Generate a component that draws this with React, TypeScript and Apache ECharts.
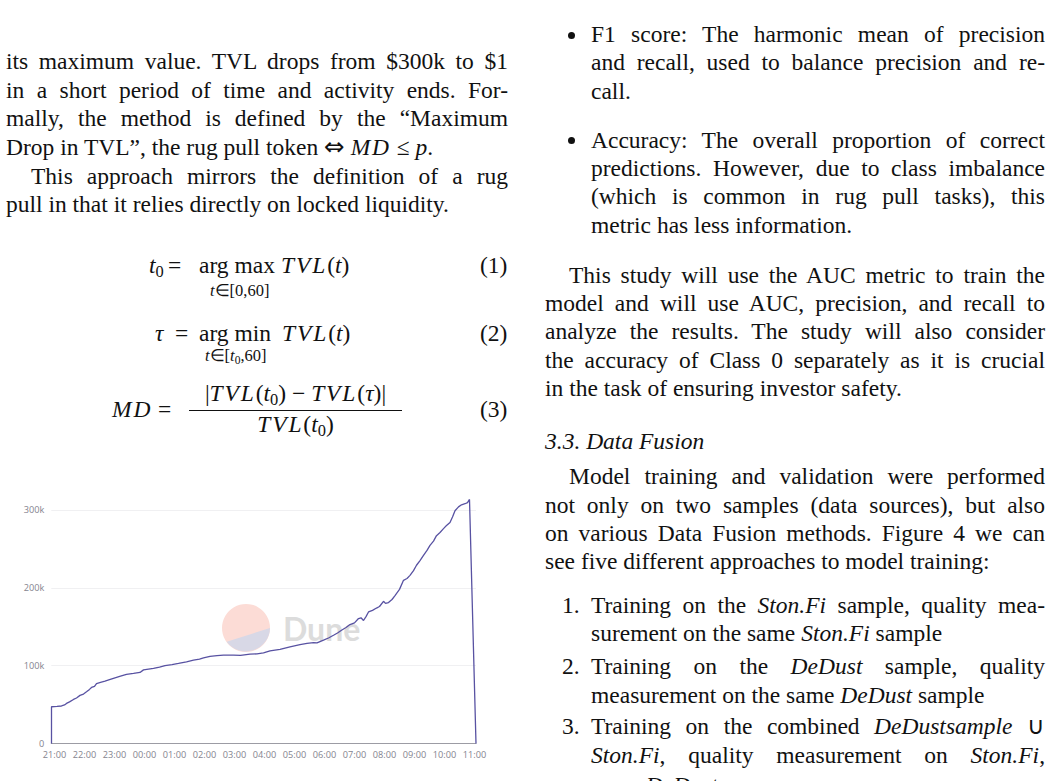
import React, { useEffect, useRef } from 'react';
import * as echarts from 'echarts';

// minutes after 21:00, and TVL in thousands of dollars
const minutes = [
  -6, -6, 5, 14, 20, 24, 30, 38, 44, 51, 58, 64, 70, 74, 80, 84, 92, 101, 110, 121,
  132, 144, 158, 171, 178, 188, 198, 210, 221, 235, 248, 264, 278, 290, 298, 311, 325,
  338, 358, 372, 391, 405, 418, 431, 451, 471, 491, 505, 518, 525, 538, 548, 558, 566,
  574, 583, 591, 600, 608, 613, 618, 623, 628, 636, 644, 650, 658, 662, 668, 675, 681,
  690, 698, 705, 711, 718, 724, 731, 738, 745, 751, 758, 764, 771, 778, 784, 791, 796,
  801, 808, 814, 821, 826, 830, 843,
];
const tvlK = [
  0, 47.2, 47.6, 48.2, 49.5, 51.5, 53.5, 56.6, 58.5, 61.8, 63.5, 66.4, 69.5, 72, 73.5, 77,
  78.5, 80, 82, 84.4, 86.5, 88.7, 90, 91.3, 94.6, 95.5, 96.4, 98, 100, 101.2, 102.8, 104.9,
  107, 108.5, 110, 112, 113, 113.5, 113.5, 113.2, 114.7, 115.2, 116.4, 119, 121, 124, 127,
  128.6, 129.7, 129.2, 132.7, 135.5, 139, 142, 145.5, 149, 152.8, 155, 160.5, 161.5, 158,
  163, 169, 171, 174, 176, 182.7, 180, 181, 185, 190, 198, 209.6, 212, 216, 222, 229, 235,
  241.7, 248, 254.5, 260, 267, 271, 276, 280, 284, 291, 299, 304, 306.7, 308, 309.5, 313.5, 0,
];

const xTickLabels = [
  '21:00', '22:00', '23:00', '00:00', '01:00', '02:00', '03:00', '04:00',
  '05:00', '06:00', '07:00', '08:00', '09:00', '10:00', '11:00',
];
const yTickValues = [0, 100000, 200000, 300000];
const yTickLabels = ['0', '100k', '200k', '300k'];

echarts.graphic.registerShape(
  'duneSeg',
  echarts.graphic.extendPath('M48 24 A24 24 0 0 1 4.7 37.7 Z', {})
);

const TvlChart: React.FC = () => {
  const chartRef = useRef<HTMLDivElement>(null);

  useEffect(() => {
    if (!chartRef.current) return;
    const chart = echarts.init(chartRef.current, null, { renderer: 'svg' });

    const labelColor = '#85858f';
    const lineColor = '#5852a2';

    chart.setOption({
      animation: false,
      backgroundColor: '#fff',
      grid: { left: 51.3, right: 24, top: 14.4, bottom: 37.5 },
      graphic: [
        {
          type: 'circle',
          z: 0,
          shape: { cx: 246, cy: 148, r: 24 },
          style: { fill: '#fcdcd6' },
        },
        {
          type: 'duneSeg',
          z: 0,
          x: 222,
          y: 124,
          style: { fill: '#d8d8e6' },
        },
        {
          type: 'text',
          z: 0,
          x: 283,
          y: 148.5,
          style: {
            text: 'Dune',
            font: 'bold 32px Lato',
            fill: '#dcdcdc',
            verticalAlign: 'middle',
          },
        },
      ],
      xAxis: {
        type: 'value',
        min: -6.4,
        max: 843,
        axisLine: { lineStyle: { color: '#9c9ca4', width: 1 } },
        axisTick: { show: false },
        splitLine: { show: false },
        axisLabel: {
          customValues: xTickLabels.map((_, i) => i * 60),
          formatter: (v: number) => xTickLabels[Math.round(v / 60)],
          color: labelColor,
          fontSize: 9.2,
          fontFamily: 'Open Sans',
          margin: 6,
        },
      },
      yAxis: {
        type: 'value',
        min: 0,
        max: 320000,
        axisLine: { show: false },
        axisTick: { show: false, customValues: yTickValues },
        splitLine: { show: true, lineStyle: { color: '#f0f0f2', width: 1 } },
        axisLabel: {
          customValues: yTickValues,
          formatter: (v: number) => yTickLabels[yTickValues.indexOf(v)],
          color: labelColor,
          fontSize: 9.2,
          fontFamily: 'Open Sans',
          margin: 7,
        },
      },
      series: [
        {
          type: 'line',
          z: 3,
          data: minutes.map((m, i) => [m, tvlK[i] * 1000]),
          showSymbol: false,
          symbol: 'none',
          lineStyle: { color: lineColor, width: 1.3 },
        },
      ],
    });

    return () => {
      chart.dispose();
    };
  }, []);

  return <div ref={chartRef} style={{ width: '100%', height: '100%' }} />;
};

const FS = 23.5;

type TxtProps = {
  x: number;
  y: number; // baseline
  w?: number;
  j?: boolean;
  c?: boolean;
  fs?: number;
  it?: boolean;
  children: React.ReactNode;
};

const Txt: React.FC<TxtProps> = ({ x, y, w, j, c, fs = FS, it, children }) => {
  const align = j ? 'justify' : c ? 'center' : 'left';
  return (
    <div
      style={{
        position: 'absolute',
        left: x,
        top: y - 0.8375 * fs,
        width: w,
        fontSize: fs,
        lineHeight: fs + 'px',
        fontStyle: it ? 'italic' : 'normal',
        textAlign: align as any,
        textAlignLast: align as any,
        whiteSpace: w ? 'normal' : 'nowrap',
      }}
    >
      {children}
    </div>
  );
};

const Sub: React.FC<{ children: React.ReactNode }> = ({ children }) => (
  <span style={{ fontSize: '0.7em', verticalAlign: '-0.25em', lineHeight: 0, fontStyle: 'normal' }}>
    {children}
  </span>
);

const M: React.FC<{ children: React.ReactNode }> = ({ children }) => (
  <i style={{ letterSpacing: '0.08em' }}>{children}</i>
);

const Bullet: React.FC<{ y: number }> = ({ y }) => (
  <div
    style={{
      position: 'absolute',
      left: 568,
      top: y - 11,
      width: 7,
      height: 7,
      borderRadius: '50%',
      background: '#111',
    }}
  />
);

export default function App() {
  return (
    <div
      style={{
        position: 'fixed',
        left: 0,
        top: 0,
        width: 1053,
        height: 781,
        overflow: 'hidden',
        background: '#fff',
        color: '#111',
        fontFamily: '"Liberation Serif", serif',
      }}
    >
      {/* left column */}
      <Txt x={6} y={70} w={502} j>its maximum value. TVL drops from $300k to $1</Txt>
      <Txt x={6} y={98.5} w={502} j>in a short period of time and activity ends. For-</Txt>
      <Txt x={6} y={127} w={502} j>mally, the method is defined by the “Maximum</Txt>
      <Txt x={6} y={155.5}>
        Drop in TVL”, the rug pull token{' '}
        <span style={{ fontFamily: '"DejaVu Sans"', fontSize: '1.05em', lineHeight: 0 }}>⇔</span>{' '}
        <M>MD</M> ≤ <i>p</i>.
      </Txt>
      <Txt x={31} y={184.5} w={477} j>This approach mirrors the definition of a rug</Txt>
      <Txt x={6} y={213}>pull in that it relies directly on locked liquidity.</Txt>

      {/* equation 1 */}
      <Txt x={149} y={274}>
        <i>t</i>
        <Sub>0</Sub>
      </Txt>
      <Txt x={168} y={274}>=</Txt>
      <Txt x={199} y={274}>arg max</Txt>
      <Txt x={281} y={274}>
        <M>TVL</M>(<i>t</i>)
      </Txt>
      <Txt x={210} y={297} fs={16.5}>
        <i>t</i>∈[0,60]
      </Txt>
      <Txt x={480} y={274}>(1)</Txt>

      {/* equation 2 */}
      <Txt x={155} y={341.5}>
        <i>τ</i>
      </Txt>
      <Txt x={175} y={341.5}>=</Txt>
      <Txt x={199} y={341.5}>arg min</Txt>
      <Txt x={282} y={341.5}>
        <M>TVL</M>(<i>t</i>)
      </Txt>
      <Txt x={205} y={362} fs={16.5}>
        <i>t</i>∈[<i>t</i>
        <Sub>0</Sub>,60]
      </Txt>
      <Txt x={480} y={341.5}>(2)</Txt>

      {/* equation 3 */}
      <Txt x={112} y={418}>
        <M>MD</M>
      </Txt>
      <Txt x={158} y={418}>=</Txt>
      <Txt x={189} y={402} w={213} c>
        |<M>TVL</M>(<i>t</i>
        <Sub>0</Sub>) − <M>TVL</M>(<i>τ</i>)|
      </Txt>
      <div style={{ position: 'absolute', left: 189, top: 410, width: 213, height: 1.2, background: '#111' }} />
      <Txt x={189} y={433} w={213} c>
        <M>TVL</M>(<i>t</i>
        <Sub>0</Sub>)
      </Txt>
      <Txt x={480} y={418}>(3)</Txt>

      {/* chart */}
      <div style={{ position: 'absolute', left: 0, top: 480, width: 500, height: 301 }}>
        <TvlChart />
      </div>

      {/* right column */}
      <Bullet y={42.7} />
      <Txt x={591} y={42.7} w={454} j>F1 score: The harmonic mean of precision</Txt>
      <Txt x={591} y={71} w={454} j>and recall, used to balance precision and re-</Txt>
      <Txt x={591} y={99.3}>call.</Txt>

      <Bullet y={148.3} />
      <Txt x={591} y={148.3} w={454} j>Accuracy: The overall proportion of correct</Txt>
      <Txt x={591} y={176.7} w={454} j>predictions. However, due to class imbalance</Txt>
      <Txt x={591} y={205} w={454} j>(which is common in rug pull tasks), this</Txt>
      <Txt x={591} y={233.3}>metric has less information.</Txt>

      <Txt x={569} y={283.3} w={476} j>This study will use the AUC metric to train the</Txt>
      <Txt x={545} y={311.7} w={500} j>model and will use AUC, precision, and recall to</Txt>
      <Txt x={545} y={340} w={500} j>analyze the results. The study will also consider</Txt>
      <Txt x={545} y={368.3} w={500} j>the accuracy of Class 0 separately as it is crucial</Txt>
      <Txt x={545} y={396.7}>in the task of ensuring investor safety.</Txt>

      <Txt x={545} y={450} it>3.3. Data Fusion</Txt>

      <Txt x={569} y={485} w={476} j>Model training and validation were performed</Txt>
      <Txt x={545} y={513.3} w={500} j>not only on two samples (data sources), but also</Txt>
      <Txt x={545} y={541.7} w={500} j>on various Data Fusion methods. Figure 4 we can</Txt>
      <Txt x={545} y={570}>see five different approaches to model training:</Txt>

      <Txt x={562} y={613.3}>1.</Txt>
      <Txt x={591} y={613.3} w={454} j>
        Training on the <i>Ston.Fi</i> sample, quality mea-
      </Txt>
      <Txt x={591} y={641.7}>
        surement on the same <i>Ston.Fi</i> sample
      </Txt>
      <Txt x={562} y={675}>2.</Txt>
      <Txt x={591} y={675} w={454} j>
        Training on the <i>DeDust</i> sample, quality
      </Txt>
      <Txt x={591} y={703.3}>
        measurement on the same <i>DeDust</i> sample
      </Txt>
      <Txt x={562} y={735}>3.</Txt>
      <Txt x={591} y={735} w={454} j>
        Training on the combined <i>DeDustsample</i> ∪
      </Txt>
      <Txt x={591} y={763.3} w={454} j>
        <i>Ston.Fi</i>, quality measurement on <i>Ston.Fi</i>,
      </Txt>
      <Txt x={591} y={794}>
        or on <i>DeDust</i>
      </Txt>
    </div>
  );
}
